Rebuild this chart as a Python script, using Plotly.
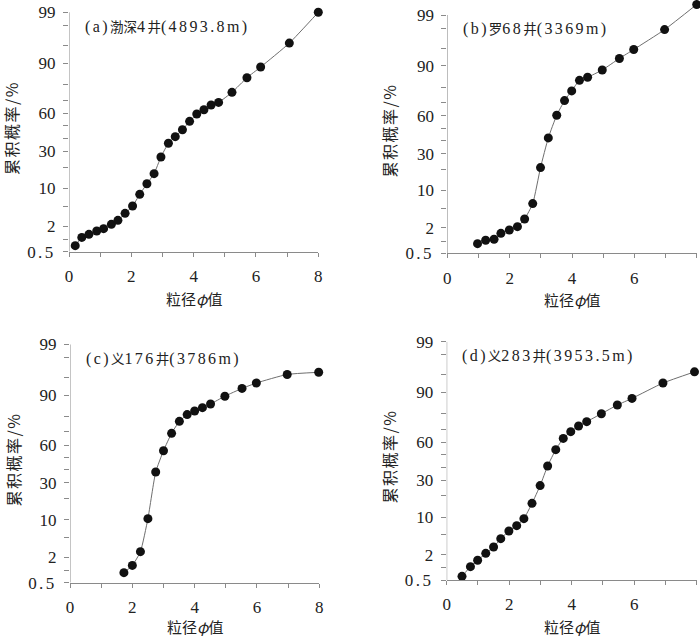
from statistics import NormalDist
import plotly.graph_objects as go

# 粒径 phi 值 and 累积概率 (%)
phi_a = [0.2, 0.41, 0.64, 0.89, 1.11, 1.36, 1.57, 1.8, 2.04, 2.27, 2.5, 2.73, 2.95,
         3.19, 3.41, 3.64, 3.87, 4.1, 4.33, 4.56, 4.8, 5.23, 5.71, 6.15, 7.07, 8.0]
pct_a = [0.71, 1.12, 1.32, 1.57, 1.77, 2.19, 2.66, 3.67, 5.04, 8.05, 11.8, 16.4, 26.2,
         36.1, 41.3, 46.9, 53.7, 59.6, 63.0, 66.6, 68.5, 75.4, 83.8, 88.6, 95.5, 99.0]

phi_b = [0.97, 1.23, 1.5, 1.72, 1.99, 2.25, 2.48, 2.74, 2.99, 3.24, 3.51, 3.76, 3.99,
         4.24, 4.5, 4.97, 5.52, 5.98, 6.97, 8.0]
pct_b = [0.87, 1.05, 1.11, 1.52, 1.8, 2.13, 3.08, 6.01, 20.8, 42.0, 60.4, 71.4, 77.8,
         83.7, 85.2, 88.4, 92.4, 94.7, 97.86, 99.45]

phi_c = [1.73, 2.0, 2.26, 2.5, 2.75, 3.0, 3.26, 3.51, 3.76, 4.0, 4.25, 4.51, 4.97,
         5.52, 5.98, 6.97, 7.98]
pct_c = [0.89, 1.32, 2.63, 10.4, 38.2, 55.5, 69.0, 77.1, 81.1, 83.0, 84.7, 86.4, 89.6,
         92.2, 93.7, 95.6, 96.0]

phi_d = [0.49, 0.76, 0.99, 1.25, 1.5, 1.73, 1.99, 2.24, 2.47, 2.73, 2.99, 3.23, 3.49,
         3.73, 3.97, 4.22, 4.48, 4.95, 5.46, 5.93, 6.92, 7.93]
pct_d = [0.62, 1.07, 1.5, 2.13, 2.89, 4.22, 5.85, 7.24, 9.44, 15.9, 26.3, 40.9, 54.2,
         63.2, 68.3, 72.3, 75.2, 80.1, 84.7, 87.7, 93.0, 95.6]

tags = ['(a)', '(b)', '(c)', '(d)']
wells = [('渤深', '4', '(4893.8m)'), ('罗', '68', '(3369m)'),
         ('义', '176', '(3786m)'), ('义', '283', '(3953.5m)')]
major_pct = [0.5, 2, 10, 30, 60, 90, 99]
major_text = ['0.5', '2', '10', '30', '60', '90', '99']
minor_pct = [1, 5, 20, 40, 50, 70, 80, 95, 98]
x_ticks = [0, 2, 4, 6, 8]

nd = NormalDist()


def z(p):
    return nd.inv_cdf(p / 100.0)


W, H = 700, 638
# plot boxes in pixels: left, right, top(99), bottom(0.5)
boxes = [(69, 318.3, 12.3, 251.7), (447.3, 696.7, 15, 253.3),
         (70, 319.3, 344.3, 582.7), (446.7, 696.7, 341.7, 580)]
data = [(phi_a, pct_a), (phi_b, pct_b), (phi_c, pct_c), (phi_d, pct_d)]

serif = 'Liberation Serif, Noto Sans CJK SC'
cjk = 'Noto Sans CJK SC'
axcol = '#8a8a8a'
sp = '<span style="letter-spacing:2.4px">%s</span>'
cn = '<span style="font-family:Noto Sans CJK SC;font-size:13.5px">%s</span>'

fig = go.Figure()
layout = dict(width=W, height=H, margin=dict(l=0, r=0, t=0, b=0),
              paper_bgcolor='white', plot_bgcolor='white', showlegend=False)
annotations = []
shapes = []

for i, ((phi, pct), (x0, x1, y0, y1), tag, well) in enumerate(zip(data, boxes, tags, wells)):
    n = '' if i == 0 else str(i + 1)
    # let the range run past 99 when a point sits above it (panel b), keeping 99 in place
    scale = (y1 - y0) / (z(99) - z(0.5))
    ytop = z(max(99, max(pct) + 0.1))
    ptop = y0 - (ytop - z(99)) * scale
    fig.add_trace(go.Scatter(
        x=phi, y=[z(p) for p in pct], xaxis='x' + n, yaxis='y' + n,
        mode='lines+markers', cliponaxis=False,
        line=dict(color='#6e6e6e', width=1, shape='spline', smoothing=0.5),
        marker=dict(color='#111111', size=9)))
    layout['xaxis' + n] = dict(
        domain=[x0 / W, x1 / W], range=[0, 8], anchor='y' + n, automargin=False,
        showgrid=False, zeroline=False, showline=True, linecolor=axcol, linewidth=1,
        ticks='outside', ticklen=4, tickcolor=axcol, tickvals=x_ticks,
        minor=dict(tickvals=[1, 3, 5, 7], ticks='outside', ticklen=4, tickcolor=axcol),
        ticklabelstandoff=5, tickfont=dict(family=serif, size=17, color='#222'))
    layout['yaxis' + n] = dict(
        domain=[1 - y1 / H, 1 - ptop / H], range=[z(0.5), ytop], anchor='x' + n,
        automargin=False,
        showgrid=False, zeroline=False, showline=False,
        ticks='outside', ticklen=5, tickcolor=axcol,
        tickvals=[z(p) for p in major_pct],
        ticktext=[sp % t if '.' in t else t for t in major_text],
        minor=dict(tickvals=[z(p) for p in minor_pct], ticks='outside', ticklen=5,
                   tickcolor=axcol),
        ticklabelstandoff=4, tickfont=dict(family=serif, size=17, color='#222'))
    shapes.append(dict(type='line', xref='x' + n, yref='y' + n, x0=0, x1=0,
                       y0=z(0.5), y1=z(99), line=dict(color=axcol, width=1), layer='below'))
    title = sp % tag + cn % well[0] + sp % well[1] + cn % '井' + sp % well[2]
    annotations.append(dict(
        text=title, x=(x0 + 13.5) / W, y=1 - (y0 + 13.5) / H, xref='paper', yref='paper',
        xanchor='left', yanchor='middle', showarrow=False,
        font=dict(family=serif, size=16, color='#222')))
    annotations.append(dict(
        text='<span style="letter-spacing:1.5px">累积概率/%</span>',
        x=(x0 - 58) / W, y=1 - ((y0 + y1) / 2 - 4) / H,
        xref='paper', yref='paper', xanchor='center', yanchor='middle',
        textangle=-90, showarrow=False, font=dict(family=cjk, size=16, color='#222')))
    annotations.append(dict(
        text='粒径<i>φ</i>值', x=(x0 + x1) / 2 / W, y=1 - min(y1 + 46.5, H - 12) / H,
        xref='paper', yref='paper', xanchor='center', yanchor='middle',
        showarrow=False, font=dict(family=cjk, size=15, color='#222')))

layout['annotations'] = annotations
layout['shapes'] = shapes
fig.update_layout(**layout)
# the page's default body margin would shift the figure by 8px
fig.write_html('out.html', config={'displayModeBar': False},
               post_script="document.body.style.margin='0';")
